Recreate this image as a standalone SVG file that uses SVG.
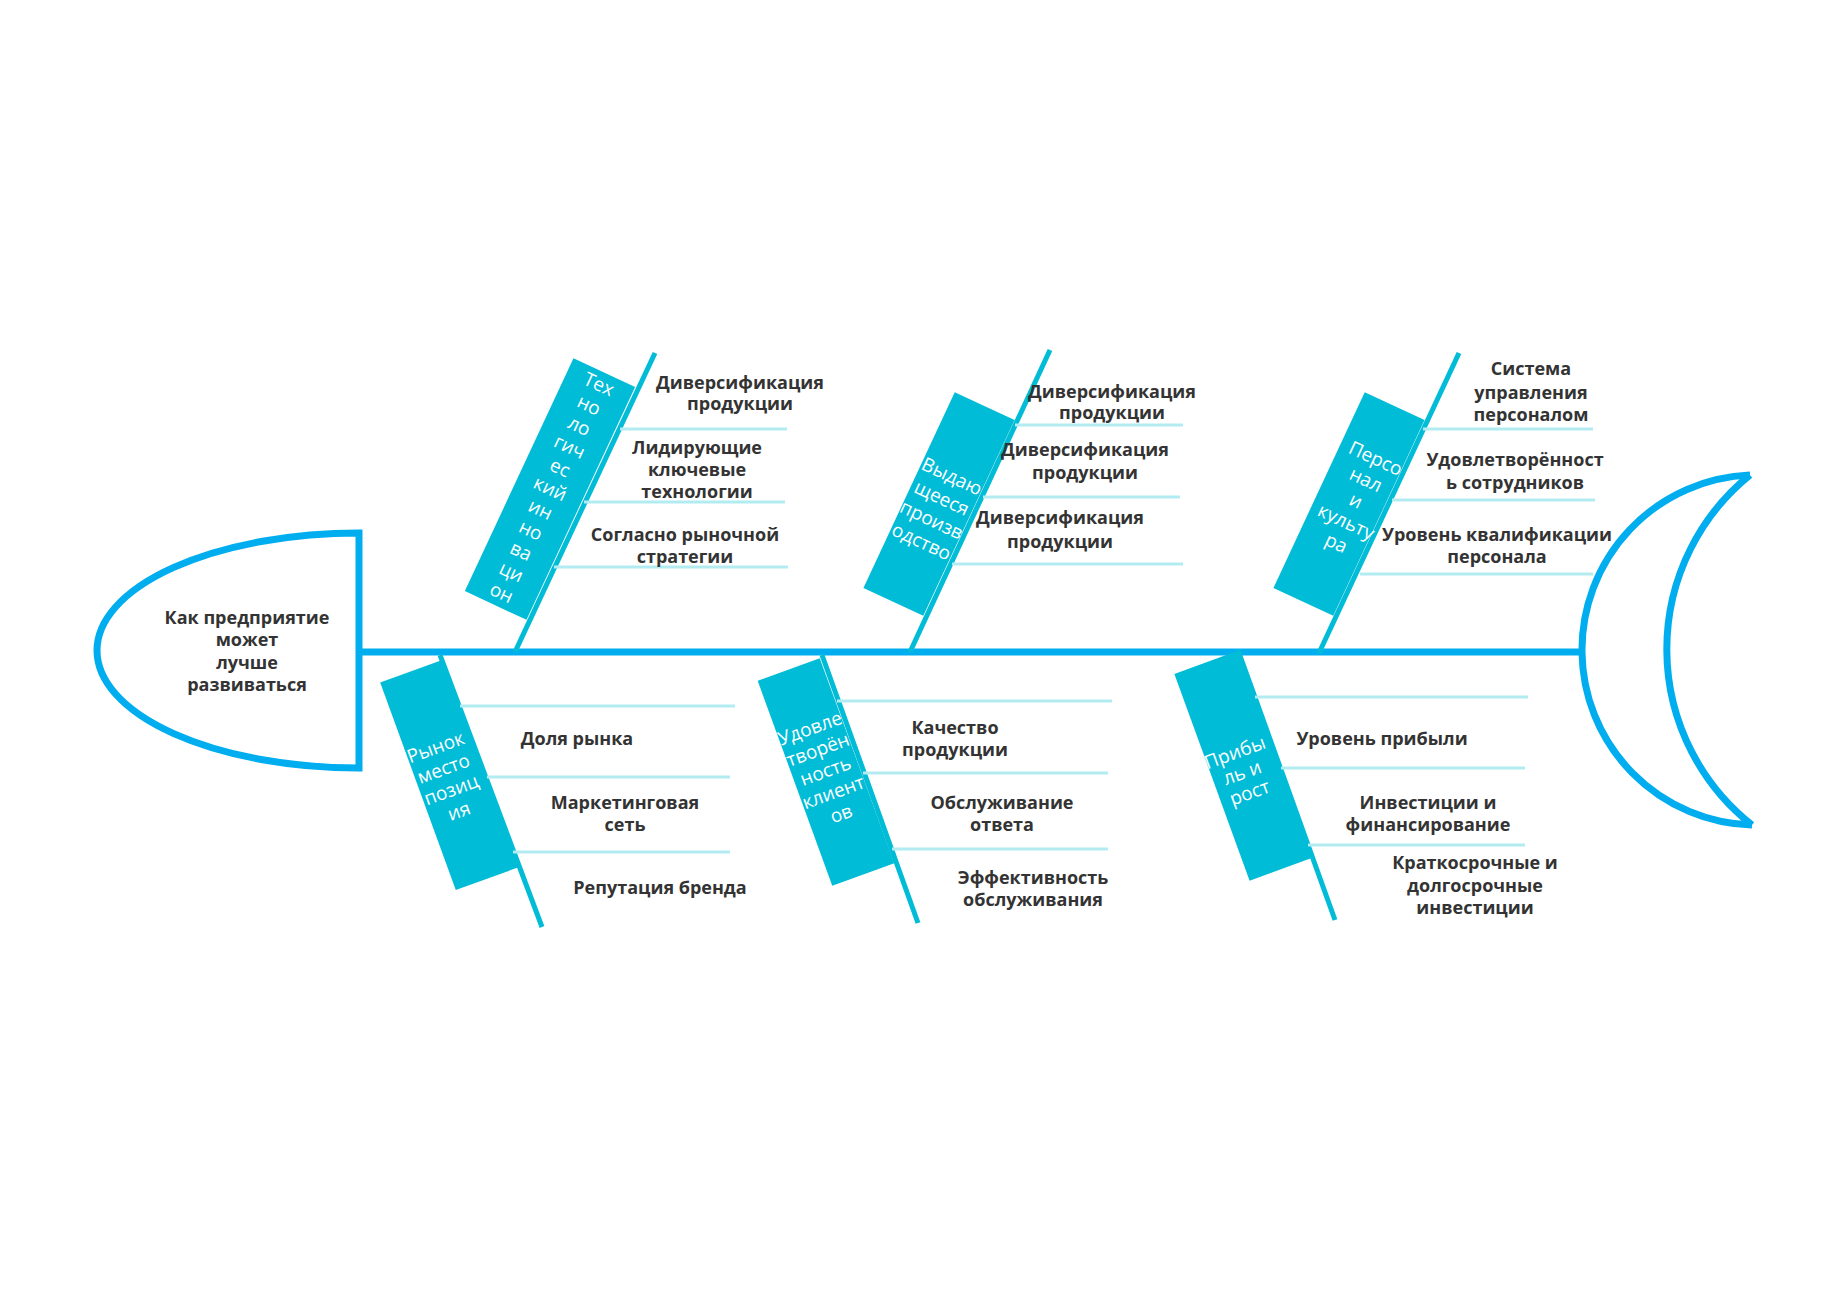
<svg xmlns="http://www.w3.org/2000/svg" width="1847" height="1303" viewBox="0 0 1847 1303">
<style>
.main{fill:none;stroke:#00AEEF;stroke-width:7;stroke-linejoin:miter}
.bone{stroke:#00BCD6;stroke-width:5;fill:none}
.sub{stroke:#B2EBF2;stroke-width:3;fill:none}
.box{fill:#00BCD6}
.lbl{font-family:"Open Sans","Noto Sans","Liberation Sans",sans-serif;font-weight:700;font-size:18px;fill:#333333;text-anchor:middle}
.cat{font-family:"Open Sans","Noto Sans","Liberation Sans",sans-serif;font-weight:400;font-size:19px;fill:#FFFFFF;text-anchor:middle}
</style>
<rect width="1847" height="1303" fill="#FFFFFF"/>
<g id="head">
<path class="main" d="M359,533 A262,117.5 0 0 0 359,768 Z"/>
<text class="lbl" x="247" y="624">Как предприятие</text>
<text class="lbl" x="247" y="646">может</text>
<text class="lbl" x="247" y="669">лучше</text>
<text class="lbl" x="247" y="691">развиваться</text>
</g>
<g id="tail">
<path class="main" d="M1750,475 A175,175 0 0 0 1582,652 A175,175 0 0 0 1752,825"/>
<path class="main" d="M1750,475 A224,224 0 0 0 1752,825"/>
</g>
<g id="connectors">
<line class="main" x1="359" y1="652" x2="1584" y2="652"/>
<line class="bone" x1="515" y1="652" x2="655" y2="353"/>
<line class="bone" x1="910" y1="652" x2="1050" y2="350"/>
<line class="bone" x1="1319" y1="653" x2="1459" y2="353"/>
<line class="bone" x1="440" y1="655" x2="542" y2="927"/>
<line class="bone" x1="822" y1="655" x2="918" y2="923"/>
<line class="bone" x1="1238" y1="650" x2="1335" y2="920"/>
<line class="sub" x1="620" y1="429" x2="787" y2="429"/>
<line class="sub" x1="584" y1="502" x2="785" y2="502"/>
<line class="sub" x1="554" y1="567" x2="788" y2="567"/>
<line class="sub" x1="1015" y1="425" x2="1183" y2="425"/>
<line class="sub" x1="983" y1="497" x2="1180" y2="497"/>
<line class="sub" x1="952" y1="564" x2="1183" y2="564"/>
<line class="sub" x1="1423" y1="429" x2="1593" y2="429"/>
<line class="sub" x1="1392" y1="500" x2="1595" y2="500"/>
<line class="sub" x1="1360" y1="574" x2="1593" y2="574"/>
<line class="sub" x1="460" y1="706" x2="735" y2="706"/>
<line class="sub" x1="487" y1="777" x2="730" y2="777"/>
<line class="sub" x1="513" y1="852" x2="730" y2="852"/>
<line class="sub" x1="837" y1="701" x2="1112" y2="701"/>
<line class="sub" x1="863" y1="773" x2="1108" y2="773"/>
<line class="sub" x1="892" y1="849" x2="1108" y2="849"/>
<line class="sub" x1="1255" y1="697" x2="1528" y2="697"/>
<line class="sub" x1="1281" y1="768" x2="1525" y2="768"/>
<line class="sub" x1="1308" y1="845" x2="1525" y2="845"/>
</g>
<g id="cat-tech" transform="translate(550,489) rotate(25)">
<rect class="box" x="-34" y="-128.5" width="68" height="257"/>
<text class="cat" x="0" y="-109"><tspan x="0">Тех</tspan><tspan x="0" dy="23">но</tspan><tspan x="0" dy="23">ло</tspan><tspan x="0" dy="23">гич</tspan><tspan x="0" dy="23">ес</tspan><tspan x="0" dy="23">кий</tspan><tspan x="0" dy="23">ин</tspan><tspan x="0" dy="23">но</tspan><tspan x="0" dy="23">ва</tspan><tspan x="0" dy="23">ци</tspan><tspan x="0" dy="23">он</tspan></text>
</g>
<g id="cat-prod" transform="translate(939,504) rotate(25)">
<rect class="box" x="-33" y="-108" width="66" height="216"/>
<text class="cat" x="0" y="-24"><tspan x="0">Выдаю</tspan><tspan x="0" dy="24">щееся</tspan><tspan x="0" dy="24">произв</tspan><tspan x="0" dy="24">одство</tspan></text>
</g>
<g id="cat-staff" transform="translate(1349,504) rotate(25)">
<rect class="box" x="-33" y="-108" width="66" height="216"/>
<text class="cat" x="5" y="-46"><tspan x="5">Персо</tspan><tspan x="5" dy="23.3">нал</tspan><tspan x="5" dy="23.3">и</tspan><tspan x="5" dy="23.3">культу</tspan><tspan x="5" dy="23.3">ра</tspan></text>
</g>
<g id="cat-market" transform="translate(449,775) rotate(-20)">
<rect class="box" x="-33" y="-110.5" width="66" height="221"/>
<text class="cat" x="-3" y="-24"><tspan x="-3">Рынок</tspan><tspan x="-3" dy="22.6">место</tspan><tspan x="-3" dy="22.6">позиц</tspan><tspan x="-3" dy="22.6">ия</tspan></text>
</g>
<g id="cat-satisf" transform="translate(826,772) rotate(-20)">
<rect class="box" x="-33" y="-109" width="66" height="218"/>
<text class="cat" x="0" y="-40"><tspan x="0">Удовле</tspan><tspan x="0" dy="22.7">творён</tspan><tspan x="0" dy="22.7">ность</tspan><tspan x="0" dy="22.7">клиент</tspan><tspan x="0" dy="22.7">ов</tspan></text>
</g>
<g id="cat-profit" transform="translate(1243,766) rotate(-20)">
<rect class="box" x="-33" y="-110" width="66" height="220"/>
<text class="cat" x="-3" y="-9"><tspan x="-3">Прибы</tspan><tspan x="-3" dy="21.4">ль и</tspan><tspan x="-3" dy="21.4">рост</tspan></text>
</g>
<g id="labels-tech">
<text class="lbl" x="740" y="389">Диверсификация</text>
<text class="lbl" x="740" y="410">продукции</text>
<text class="lbl" x="697" y="454">Лидирующие</text>
<text class="lbl" x="697" y="476">ключевые</text>
<text class="lbl" x="697" y="498">технологии</text>
<text class="lbl" x="685" y="541">Согласно рыночной</text>
<text class="lbl" x="685" y="563">стратегии</text>
</g>
<g id="labels-prod">
<text class="lbl" x="1112" y="398">Диверсификация</text>
<text class="lbl" x="1112" y="419">продукции</text>
<text class="lbl" x="1085" y="456">Диверсификация</text>
<text class="lbl" x="1085" y="479">продукции</text>
<text class="lbl" x="1060" y="524">Диверсификация</text>
<text class="lbl" x="1060" y="548">продукции</text>
</g>
<g id="labels-staff">
<text class="lbl" x="1531" y="375">Система</text>
<text class="lbl" x="1531" y="399">управления</text>
<text class="lbl" x="1531" y="421">персоналом</text>
<text class="lbl" x="1515" y="466">Удовлетворённост</text>
<text class="lbl" x="1515" y="489">ь сотрудников</text>
<text class="lbl" x="1497" y="541">Уровень квалификации</text>
<text class="lbl" x="1497" y="563">персонала</text>
</g>
<g id="labels-market">
<text class="lbl" x="577" y="745">Доля рынка</text>
<text class="lbl" x="625" y="809">Маркетинговая</text>
<text class="lbl" x="625" y="831">сеть</text>
<text class="lbl" x="660" y="894">Репутация бренда</text>
</g>
<g id="labels-satisf">
<text class="lbl" x="955" y="734">Качество</text>
<text class="lbl" x="955" y="756">продукции</text>
<text class="lbl" x="1002" y="809">Обслуживание</text>
<text class="lbl" x="1002" y="831">ответа</text>
<text class="lbl" x="1033" y="884">Эффективность</text>
<text class="lbl" x="1033" y="906">обслуживания</text>
</g>
<g id="labels-profit">
<text class="lbl" x="1382" y="745">Уровень прибыли</text>
<text class="lbl" x="1428" y="809">Инвестиции и</text>
<text class="lbl" x="1428" y="831">финансирование</text>
<text class="lbl" x="1475" y="869">Краткосрочные и</text>
<text class="lbl" x="1475" y="892">долгосрочные</text>
<text class="lbl" x="1475" y="914">инвестиции</text>
</g>
</svg>
